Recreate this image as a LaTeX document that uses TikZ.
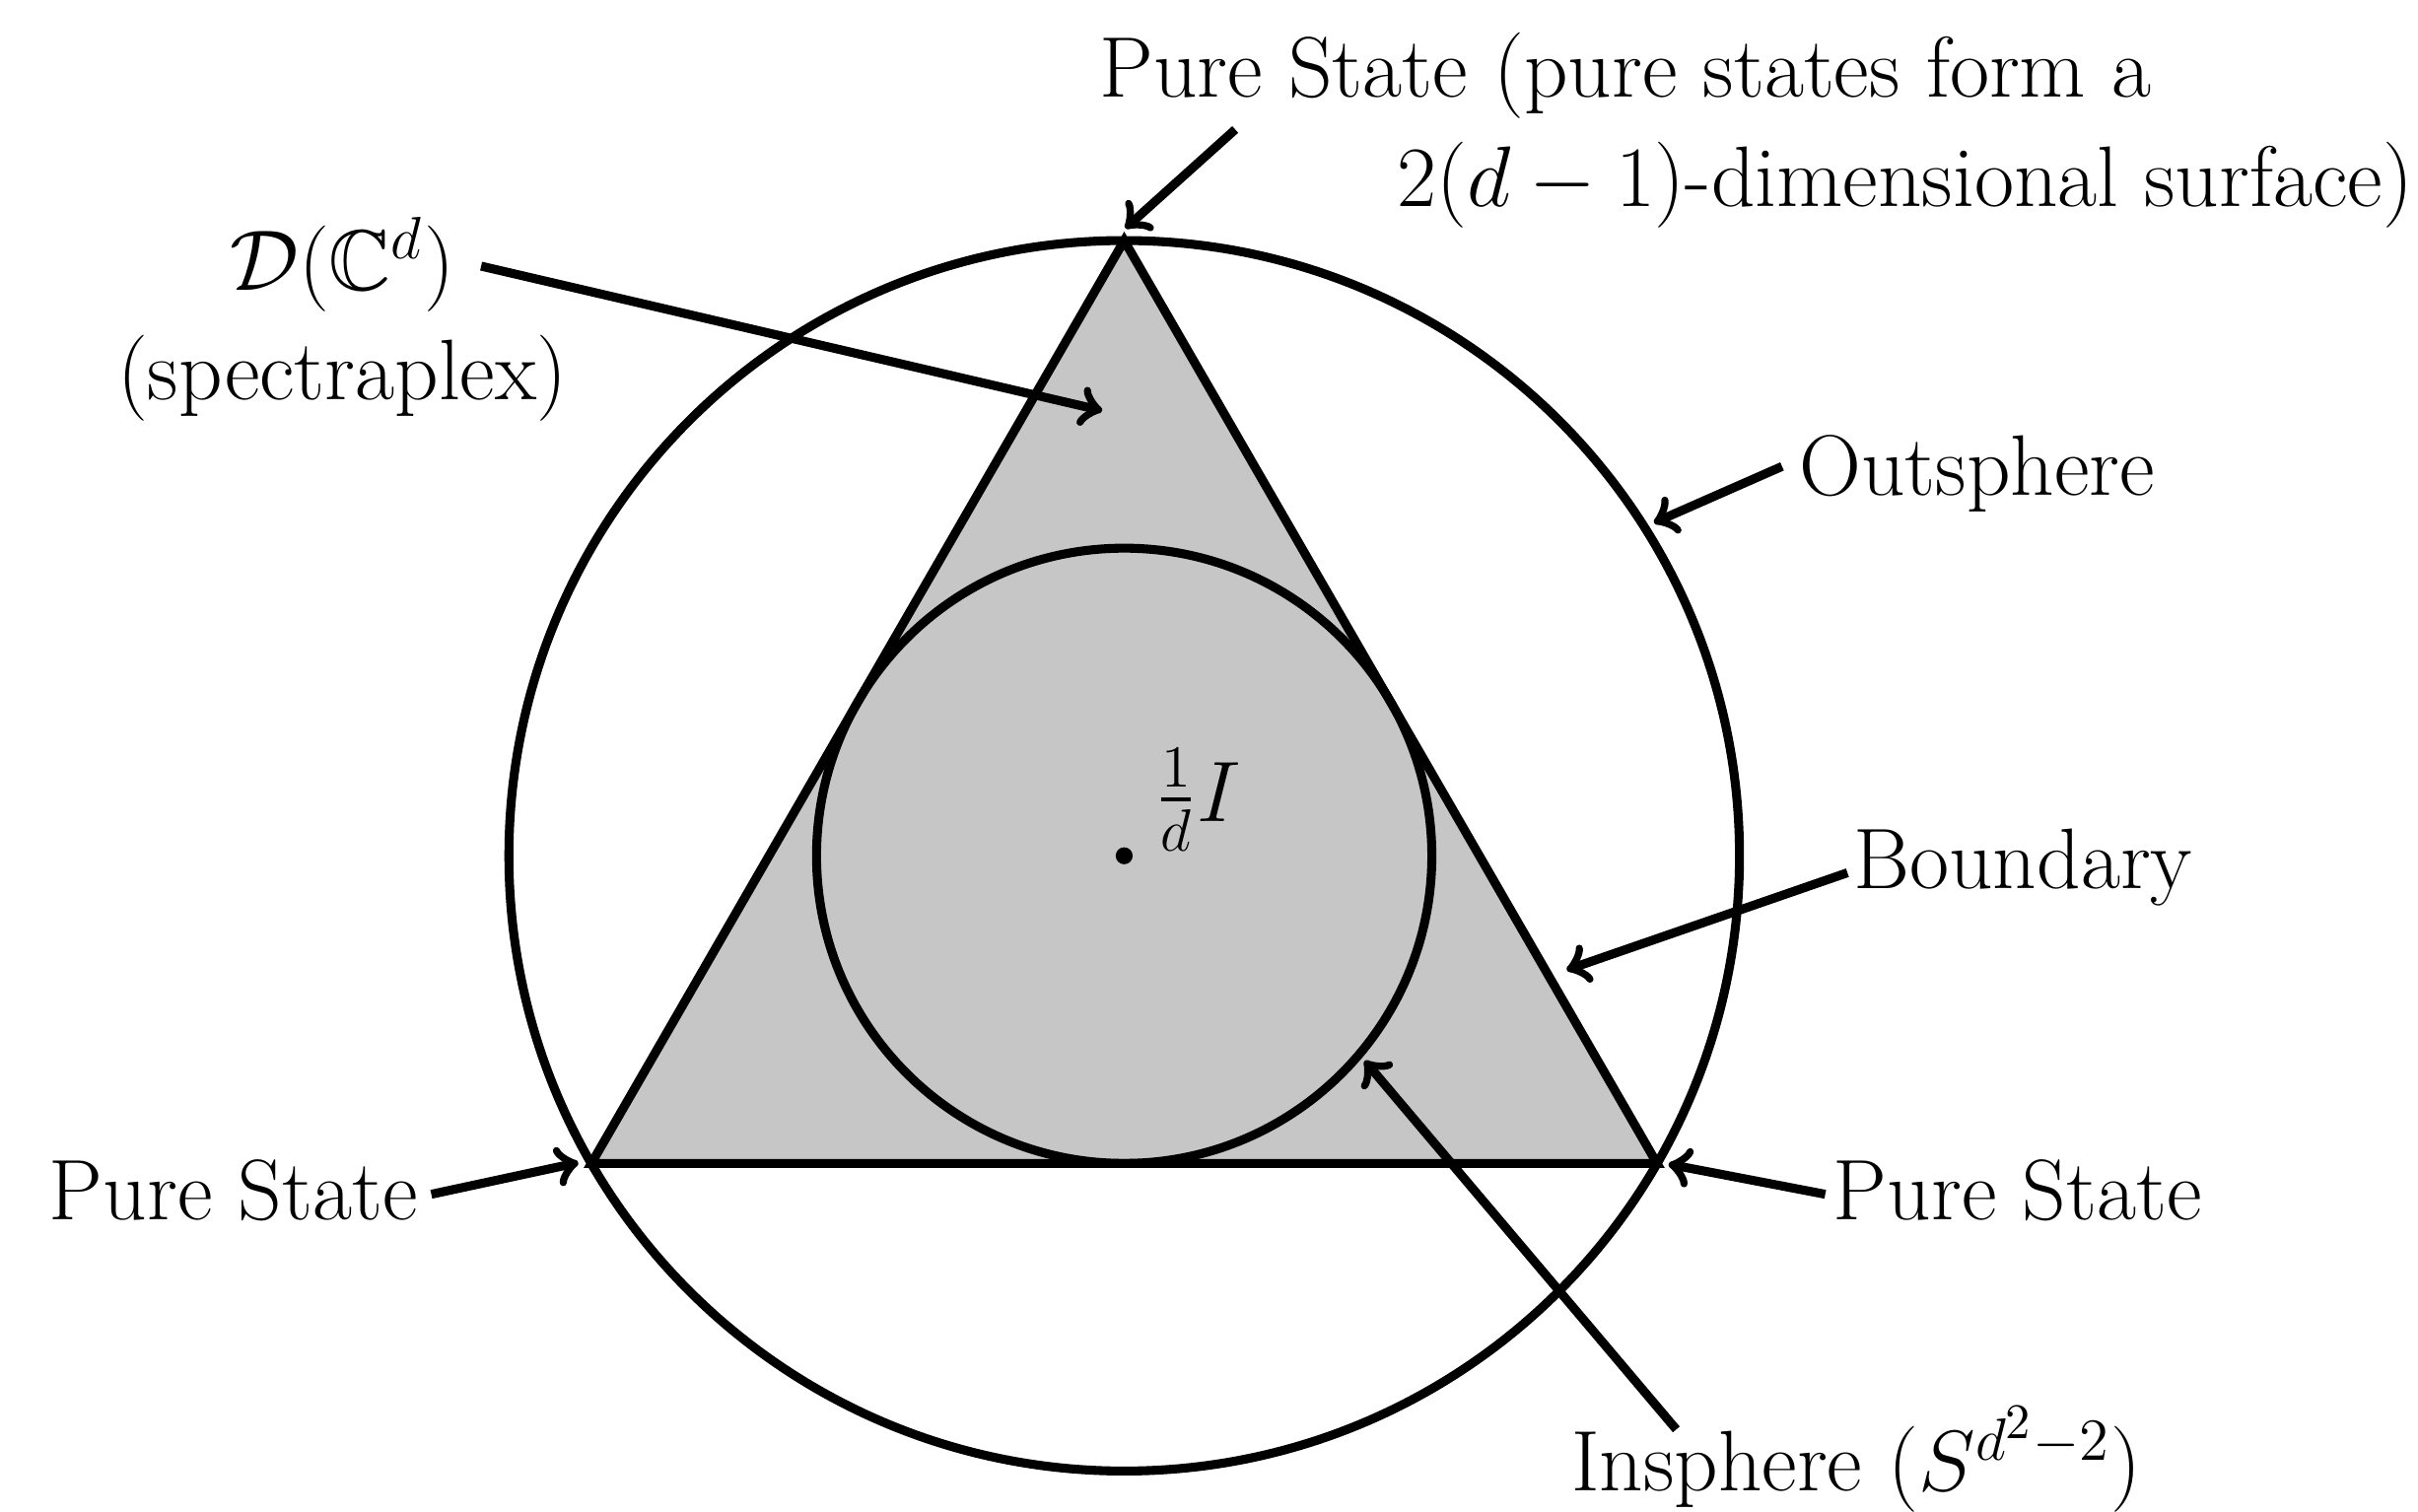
\documentclass[tikz,border=0pt]{standalone}
\usepackage{amsmath,amssymb}
\begin{document}
\begin{tikzpicture}[x=0.31pt,y=-0.31pt,line width=1.8pt,
  lbl/.style={font=\LARGE,inner sep=0pt},
  pointer/.style={->,line width=1.8pt}]
\useasboundingbox (0,0) rectangle (1568,980);
% geometry
\coordinate (C) at (729,555);
\coordinate (vt) at (729,156);
\coordinate (vl) at (383.5,754.5);
\coordinate (vr) at (1074.5,754.5);
\filldraw[fill=black!22.5] (vt) -- (vl) -- (vr) -- cycle;
\draw (C) circle (199.5);
\draw (C) circle (399);
\fill (C) circle (5.5);
% labels
\node[lbl,anchor=base west] (top1) at (710,63) {Pure State (pure states form a};
\node[lbl,anchor=base west] (top2) at (903,134) {$2(d-1)$-dimensional surface)};
\node[lbl,align=center,anchor=center] (spec) at (222,207) {$\mathcal{D}(\mathbb{C}^d)$\\(spectraplex)};
\node[lbl,anchor=base west] (outs) at (1164,321) {Outsphere};
\node[lbl,anchor=base west] (bnd) at (1199,576) {Boundary};
\node[lbl,anchor=base west] (lps) at (29,791) {Pure State};
\node[lbl,anchor=base west] (rps) at (1186,791) {Pure State};
\node[lbl,anchor=base west] (ins) at (1016,967) {Insphere ($S^{d^2-2}$)};
\node[lbl,anchor=base west] (mix) at (746,532.5) {$\frac{1}{d}I$};
% arrow ends
\coordinate (s1) at (801,84);      \coordinate (t1) at (729.8,148);
\coordinate (s2) at (312,172.6);   \coordinate (t2) at (714.7,266.3);
\coordinate (s3) at (1155.6,302.5);\coordinate (t3) at (1072.6,339);
\coordinate (s4) at (1198,566);    \coordinate (t4) at (1016,629);
\coordinate (s5) at (1183.6,774.5);\coordinate (t5) at (1082,755);
\coordinate (s6) at (279.7,774.5); \coordinate (t6) at (375,754);
\coordinate (s7) at (1087,927);    \coordinate (t7) at (885,688);
\foreach \i in {1,...,7} \draw[pointer] (s\i) -- (t\i);
\end{tikzpicture}
\end{document}
